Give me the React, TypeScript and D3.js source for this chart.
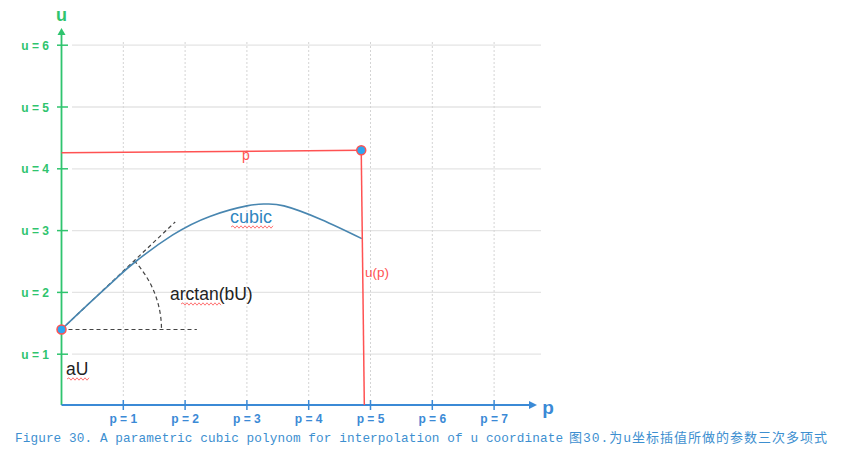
import React from "react";
import * as d3 from "d3";

const pTicks = [1, 2, 3, 4, 5, 6, 7];
const uTicks = [1, 2, 3, 4, 5, 6];
const cubicP = [0, 0.3, 0.6, 0.9, 1.2, 1.8, 2.4, 3.0, 3.3, 3.6, 4.2, 4.86];
const cubicU = [1.4, 1.685, 1.965, 2.24, 2.5, 2.93, 3.23, 3.4, 3.43, 3.4, 3.18, 2.87];
const startPoint = { p: 0, u: 1.4 };
const endPoint = { p: 4.85, u: 4.3 };
const hLineStartU = 4.26;
const vLineBottomP = 4.9;
const tangentEnd = { p: 1.84, u: 3.14 };
const horizDashEndP = 2.19;
const axisU = 0.178;
const captionEn = "Figure 30. A parametric cubic polynom for interpolation of u coordinate";
const captionZh = "图30.为u坐标插值所做的参数三次多项式";

const GREEN = "#2fc46e";
const BLUE = "#3b8ad6";
const RED = "#ff5252";
const CURVE = "#4886b0";

function squiggle(x0: number, x1: number, y: number) {
  const p = d3.path();
  p.moveTo(x0, y);
  let up = true;
  for (let x = x0 + 2; x <= x1; x += 2) {
    p.lineTo(x, y + (up ? -1.2 : 1.2));
    up = !up;
  }
  return p.toString();
}

export default function App() {
  const x = d3.scaleLinear().domain([0, 7]).range([61.5, 494.1]);
  const y = d3.scaleLinear().domain([1, 6]).range([354.2, 45.2]);
  const y0 = y(axisU);
  const x0 = x(0);

  const line = d3
    .line<number>()
    .x((_, i) => x(cubicP[i]))
    .y((d) => y(d))
    .curve(d3.curveNatural);

  const sx = x(startPoint.p);
  const sy = y(startPoint.u);
  const ang = Math.atan2(sy - y(tangentEnd.u), x(tangentEnd.p) - sx);
  const arcPath = d3.path();
  const r = 100;
  arcPath.moveTo(sx + r * Math.cos(-ang), sy + r * Math.sin(-ang));
  arcPath.arc(sx, sy, r, -ang, 0);

  return (
    <svg
      width={845}
      height={463}
      style={{ position: "absolute", left: 0, top: 0, background: "#fff" }}
      fontFamily="Arial, 'Liberation Sans', sans-serif"
    >
      {/* grid */}
      {uTicks.map((u) => (
        <line key={"hg" + u} x1={72} x2={541} y1={y(u)} y2={y(u)} stroke="#e4e4e4" strokeWidth={1.3} />
      ))}
      {pTicks.map((p) => (
        <line key={"vg" + p} x1={x(p)} x2={x(p)} y1={42} y2={398} stroke="#d4d4d4" strokeWidth={1} strokeDasharray="2,2" />
      ))}

      {/* y axis */}
      <line x1={x0} x2={x0} y1={34} y2={y0} stroke={GREEN} strokeWidth={1.8} />
      <path d={`M${x0},28 L${x0 - 4},35 L${x0 + 4},35 Z`} fill={GREEN} />
      <text x={x0} y={21} textAnchor="middle" fill={GREEN} fontWeight="bold" fontSize={18}>u</text>
      {uTicks.map((u) => (
        <g key={"yt" + u}>
          <line x1={57} x2={68} y1={y(u)} y2={y(u)} stroke={GREEN} strokeWidth={1.5} />
          <text x={49} y={y(u) + 4.5} textAnchor="end" fill={GREEN} fontWeight="bold" fontSize={12}>
            {`u = ${u}`}
          </text>
        </g>
      ))}

      {/* x axis */}
      <line x1={x0} x2={531} y1={y0} y2={y0} stroke={BLUE} strokeWidth={1.8} />
      <path d={`M537,${y0} L529,${y0 - 4} L529,${y0 + 4} Z`} fill={BLUE} />
      <text x={548} y={414} textAnchor="middle" fill={BLUE} fontWeight="bold" fontSize={19}>p</text>
      {pTicks.map((p) => (
        <g key={"xt" + p}>
          <line x1={x(p)} x2={x(p)} y1={y0 - 5} y2={y0 + 5} stroke={BLUE} strokeWidth={1.5} />
          <text x={x(p)} y={423} textAnchor="middle" fill={BLUE} fontWeight="bold" fontSize={12}>
            {`p = ${p}`}
          </text>
        </g>
      ))}

      {/* dashed annotations */}
      <line x1={sx} y1={sy} x2={x(tangentEnd.p)} y2={y(tangentEnd.u)} stroke="#444" strokeWidth={1.2} strokeDasharray="4,3" />
      <line x1={sx} y1={sy} x2={x(horizDashEndP)} y2={sy} stroke="#444" strokeWidth={1.2} strokeDasharray="4,3" />
      <path d={arcPath.toString()} fill="none" stroke="#444" strokeWidth={1.2} strokeDasharray="4,3" />

      {/* cubic curve */}
      <path d={line(cubicU) || ""} fill="none" stroke={CURVE} strokeWidth={1.6} />

      {/* red lines */}
      <line x1={x0} y1={y(hLineStartU)} x2={x(endPoint.p)} y2={y(endPoint.u)} stroke={RED} strokeWidth={1.5} />
      <line x1={x(endPoint.p)} y1={y(endPoint.u)} x2={x(vLineBottomP)} y2={y0} stroke={RED} strokeWidth={1.5} />

      {/* points */}
      <circle cx={sx} cy={sy} r={4.5} fill="#2ea6f0" stroke={RED} strokeWidth={1.5} />
      <circle cx={x(endPoint.p)} cy={y(endPoint.u)} r={4.5} fill="#2ea6f0" stroke={RED} strokeWidth={1.5} />

      {/* labels */}
      <text x={246} y={160} textAnchor="middle" fill={RED} fontSize={14}>p</text>
      <text x={365} y={277} fill={RED} fontSize={13.5}>u(p)</text>
      <text x={230} y={223} fill="#2f86c0" fontSize={18}>cubic</text>
      <path d={squiggle(231, 273, 227)} fill="none" stroke={RED} strokeWidth={0.8} />
      <text x={170} y={300} fill="#222" fontSize={17.5}>arctan(bU)</text>
      <path d={squiggle(181, 222, 304)} fill="none" stroke={RED} strokeWidth={0.8} />
      <text x={66} y={375} fill="#222" fontSize={17.5}>aU</text>
      <path d={squiggle(67, 89, 379)} fill="none" stroke={RED} strokeWidth={0.8} />

      {/* caption */}
      <text x={15} y={442} fill="#3d8fd0" fontSize={12.7} fontFamily="'Liberation Mono', 'DejaVu Sans Mono', monospace" textLength={548} lengthAdjust="spacing">
        {captionEn}
      </text>
      <text x={569} y={442} fill="#3d8fd0" fontSize={13} fontFamily="'Liberation Mono', 'Noto Sans CJK SC', monospace" textLength={258} lengthAdjust="spacing">
        {captionZh}
      </text>
    </svg>
  );
}
